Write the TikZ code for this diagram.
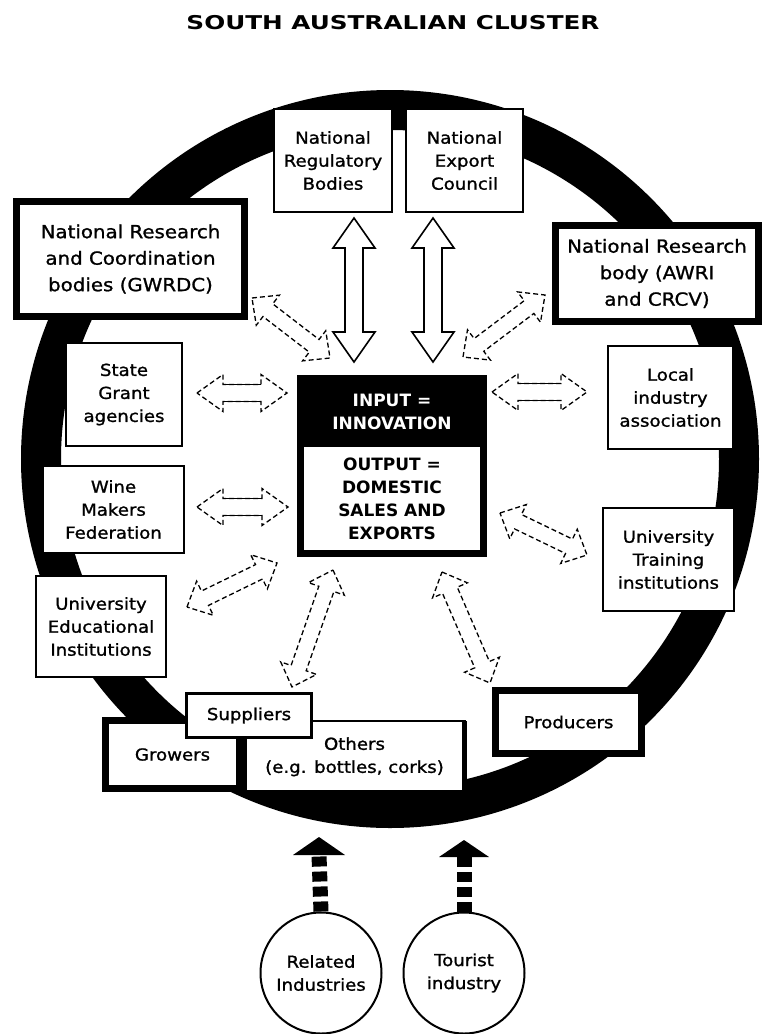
\documentclass[tikz,border=0pt]{standalone}
\usepackage{fontspec}
\setmainfont{DejaVu Sans}[FakeStretch=1.1,FakeBold=1.2]
\newfontfamily\titlefont{DejaVu Sans}[FakeStretch=1.3]
\newfontfamily\cfont{DejaVu Sans}
\usetikzlibrary{calc}
\newcommand\blockarrow[6]{%
  \coordinate (h1) at ($(#1)!#3!(#2)$);
  \coordinate (h2) at ($(#2)!#3!(#1)$);
  \draw[#6] (#1) -- ($(h1)!#4!90:(#2)$) -- ($(h1)!#5!90:(#2)$) -- ($(h2)!#5!-90:(#1)$) -- ($(h2)!#4!-90:(#1)$) -- (#2) -- ($(h2)!#4!90:(#1)$) -- ($(h2)!#5!90:(#1)$) -- ($(h1)!#5!-90:(#2)$) -- ($(h1)!#4!-90:(#2)$) -- cycle;
}
\newcommand\solidshaft[4]{%
  \coordinate (h1) at ($(#1)!#3!(#2)$);
  \coordinate (h2) at ($(#2)!#3!(#1)$);
  \draw[line width=1.6pt] ($(h1)!#4!90:(#2)$) -- ($(h2)!#4!-90:(#1)$) ($(h1)!#4!-90:(#2)$) -- ($(h2)!#4!90:(#1)$);
}
\tikzset{
  plainbox/.style={draw, fill=white, line width=2pt, inner sep=0pt, outer sep=0pt, align=center,
    font=\fontsize{16.5}{23}\selectfont},
  heavybox/.style={plainbox, line width=7pt},
  bigtext/.style={font=\fontsize{18}{26.5}\selectfont},
  dasharrow/.style={fill=white, line width=1.3pt, dash pattern=on 5pt off 3pt},
  solidarrow/.style={fill=white, line width=1.6pt},
  ringline/.style={line width=40pt},
  sourcecircle/.style={circle, draw, fill=white, line width=2pt, inner sep=0pt, minimum size=121pt, align=center,
    font=\fontsize{16.5}{23}\selectfont},
  dashshaft/.style={line width=15pt, dash pattern=on 10pt off 5pt},
}
\begin{document}
\begin{tikzpicture}[x=1pt,y=-1pt]
\useasboundingbox (0,0) rectangle (764,1034);
\fill[white] (0,0) rectangle (764,1034);

% title
\node[inner sep=0pt] (title) at (393,23) {\titlefont\bfseries\fontsize{19}{19}\selectfont SOUTH AUSTRALIAN CLUSTER};

% ring
\node[inner sep=0pt] (ringc) at (390,459) {};
\draw[ringline] (ringc) circle[radius=349pt];

% arrow end points
\coordinate (v1a) at (354,218); \coordinate (v1b) at (354,362);
\coordinate (v2a) at (433,218); \coordinate (v2b) at (433,362);
\coordinate (hsa) at (197,393); \coordinate (hsb) at (287,393);
\coordinate (hwa) at (197,507); \coordinate (hwb) at (288,507);
\coordinate (hla) at (492,392); \coordinate (hlb) at (587,392);
\coordinate (gwa) at (252,298); \coordinate (gwb) at (330,358);
\coordinate (awa) at (463,357); \coordinate (awb) at (545,295);
\coordinate (uea) at (187,607); \coordinate (ueb) at (277,563);
\coordinate (bla) at (333,570); \coordinate (blb) at (292,687);
\coordinate (bra) at (442,572); \coordinate (brb) at (490,683);
\coordinate (uta) at (500,513); \coordinate (utb) at (587,555);

\blockarrow{v1a}{v1b}{30pt}{21pt}{9pt}{solidarrow}
\blockarrow{v2a}{v2b}{30pt}{21pt}{9pt}{solidarrow}
\blockarrow{hsa}{hsb}{26pt}{18.5pt}{8.5pt}{dasharrow}
\solidshaft{hsa}{hsb}{26pt}{8.5pt}
\blockarrow{hwa}{hwb}{26pt}{18.5pt}{8.5pt}{dasharrow}
\solidshaft{hwa}{hwb}{26pt}{8.5pt}
\blockarrow{hla}{hlb}{26pt}{18.5pt}{8.5pt}{dasharrow}
\solidshaft{hla}{hlb}{26pt}{8.5pt}
\blockarrow{gwa}{gwb}{20pt}{19pt}{8pt}{dasharrow}
\blockarrow{awa}{awb}{20pt}{19pt}{8pt}{dasharrow}
\blockarrow{uea}{ueb}{20pt}{19pt}{8pt}{dasharrow}
\blockarrow{bla}{blb}{20pt}{19pt}{8pt}{dasharrow}
\blockarrow{bra}{brb}{20pt}{19pt}{8pt}{dasharrow}
\blockarrow{uta}{utb}{20pt}{19pt}{8pt}{dasharrow}

% boxes around the ring
\node[plainbox, minimum width=118pt, minimum height=103pt] (reg) at (333,160.5) {National\\Regulatory\\Bodies};
\node[plainbox, minimum width=117pt, minimum height=103pt] (exp) at (464.5,160.5) {National\\Export\\Council};
\node[heavybox, bigtext, minimum width=228pt, minimum height=115pt] (gwrdc) at (130.5,259) {National Research\\and Coordination\\bodies (GWRDC)};
\node[heavybox, bigtext, minimum width=203pt, minimum height=96pt] (awri) at (657,273.5) {National Research\\body (AWRI\\and CRCV)};
\node[plainbox, minimum width=116pt, minimum height=103pt] (state) at (124,394.5) {State\\Grant\\agencies};
\node[plainbox, minimum width=125pt, minimum height=103pt] (local) at (670.5,397.5) {Local\\industry\\association};
\node[plainbox, minimum width=141pt, minimum height=87pt] (wine) at (113.5,509.5) {Wine\\Makers\\Federation};
\node[plainbox, minimum width=130pt, minimum height=101pt] (unied) at (101,626.5) {University\\Educational\\Institutions};
\node[plainbox, minimum width=131pt, minimum height=103pt] (unitr) at (668.5,559.5) {University\\Training\\institutions};

% bottom boxes
\node[heavybox, minimum width=134pt, minimum height=68pt] (grow) at (172.5,754.5) {Growers};
\node[plainbox, minimum width=220pt, minimum height=71.5pt] (oth) at (354.5,756.75) {Others\\(e.g. bottles, corks)};
\draw[line width=5pt] (oth.north west) -- (oth.south west) -- (oth.south east) -- (oth.north east);
\node[plainbox, line width=3pt, minimum width=125pt, minimum height=44pt] (supp) at (249,715.5) {Suppliers};
\node[heavybox, minimum width=146pt, minimum height=63pt] (prod) at (568.5,722) {Producers};

% central box
\node[fill=black, inner sep=0pt, minimum width=190pt, minimum height=182pt] (core) at (392,466) {};
\node[fill=white, inner sep=0pt, minimum width=176pt, minimum height=103pt, align=center,
      font=\cfont\bfseries\fontsize{17}{23}\selectfont] (outp) at (392,498.5) {OUTPUT =\\DOMESTIC\\SALES AND\\EXPORTS};
\node[text=white, inner sep=0pt, align=center, font=\cfont\bfseries\fontsize{17}{23}\selectfont] (inp) at (392,412) {INPUT =\\INNOVATION};

% outside sources
\node[sourcecircle] (rel) at (321,973) {Related\\Industries};
\node[sourcecircle] (tour) at (464,973) {Tourist\\industry};
\coordinate (relbase) at (319,855); \coordinate (reltip) at (319,837);
\coordinate (tourbase) at (464,857); \coordinate (tourtip) at (464,840);
\draw[dashshaft] (rel.north) -- (relbase);
\fill ($(relbase)+(-26,0)$) -- (reltip) -- ($(relbase)+(26,0)$) -- cycle;
\draw[dashshaft] (tour.north) -- (tourbase);
\fill ($(tourbase)+(-25,0)$) -- (tourtip) -- ($(tourbase)+(25,0)$) -- cycle;
\end{tikzpicture}
\end{document}
